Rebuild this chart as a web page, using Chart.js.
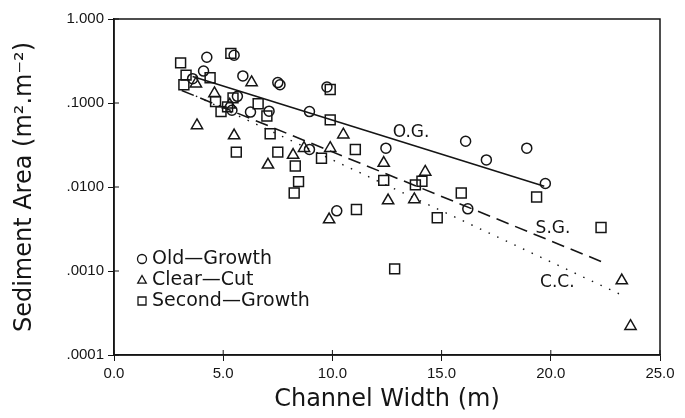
<!DOCTYPE html>
<html>
<head>
<meta charset="utf-8">
<script src="https://cdn.jsdelivr.net/npm/chart.js@4.4.0/dist/chart.umd.min.js"></script>
<style>
  html, body { margin: 0; padding: 0; background: #fff; }
  #wrap { width: 685px; height: 418px; }
</style>
</head>
<body>
<div id="wrap"><canvas id="grafico"></canvas></div>
<script>
// valores: largura do canal (m) x area de sedimento (m2.m-2)
const oldGrowthX = [3.6, 4.1, 4.25, 5.5, 5.4, 5.65, 5.9, 6.25, 7.1, 7.5, 7.6, 8.95, 8.95, 9.75, 10.2, 12.45, 16.1, 16.2, 17.05, 18.9, 19.75];
const oldGrowthY = [0.195, 0.24, 0.35, 0.37, 0.082, 0.12, 0.21, 0.078, 0.08, 0.175, 0.165, 0.079, 0.028, 0.155, 0.0052, 0.029, 0.035, 0.0055, 0.021, 0.029, 0.011];

const clearCutX = [3.75, 3.8, 4.6, 5.3, 5.5, 6.3, 7.05, 8.2, 8.7, 9.9, 9.85, 10.5, 12.35, 12.55, 13.75, 14.25, 23.25, 23.65];
const clearCutY = [0.17, 0.054, 0.13, 0.095, 0.041, 0.176, 0.0184, 0.024, 0.029, 0.029, 0.0041, 0.042, 0.0193, 0.0069, 0.0071, 0.0151, 0.00077, 0.00022];

const secondGrowthX = [3.05, 3.3, 3.2, 4.4, 4.65, 4.9, 5.2, 5.35, 5.45, 5.6, 6.6, 7.0, 7.15, 7.5, 8.3, 8.45, 8.25, 9.5, 9.9, 9.9, 11.05, 11.1, 12.35, 12.85, 13.8, 14.1, 14.8, 15.9, 19.35, 22.3];
const secondGrowthY = [0.30, 0.215, 0.165, 0.2, 0.104, 0.079, 0.09, 0.39, 0.115, 0.026, 0.098, 0.07, 0.043, 0.026, 0.0178, 0.0116, 0.0085, 0.022, 0.145, 0.063, 0.028, 0.0054, 0.012, 0.00106, 0.0106, 0.0117, 0.0043, 0.0085, 0.0076, 0.0033];

// retas de regressao (pontas)
const ogFitX = [3.6, 19.7];
const ogFitY = [0.207, 0.0102];
const sgFitX = [3.1, 22.3];
const sgFitY = [0.141, 0.0013];
const ccFitX = [3.75, 23.3];
const ccFitY = [0.121, 0.00051];

// rotulos das retas
const fitLabels = ['O.G.', 'S.G.', 'C.C.'];
const fitLabelX = [13.6, 20.1, 20.3];
const fitLabelY = [0.044, 0.0032, 0.00073];

// eixos
const yTickValues = [1, 0.1, 0.01, 0.001, 0.0001];
const yTickLabels = ['1.000', '.1000', '.0100', '.0010', '.0001'];
const xTickStep = 5;

const toPoints = (xs, ys) => xs.map((x, i) => ({ x: x, y: ys[i] }));
const ink = '#151515';

function marker(ctx, style, x, y, r) {
    ctx.beginPath();
    if (style === 'circle') {
        ctx.arc(x, y, r, 0, Math.PI * 2);
    } else if (style === 'triangle') {
        ctx.moveTo(x, y - r);
        ctx.lineTo(x + r * 0.95, y + r * 0.7);
        ctx.lineTo(x - r * 0.95, y + r * 0.7);
        ctx.closePath();
    } else {
        ctx.rect(x - r, y - r, 2 * r, 2 * r);
    }
    ctx.stroke();
}

const extras = {
    id: 'extras',
    afterDraw(chart) {
        const ctx = chart.ctx;
        const a = chart.chartArea;
        const sx = chart.scales.x, sy = chart.scales.y;
        ctx.save();
        // moldura
        ctx.strokeStyle = ink;
        ctx.lineWidth = 1.5;
        ctx.strokeRect(a.left, a.top, a.right - a.left, a.bottom - a.top);
        // marcas internas dos ticks
        ctx.lineWidth = 1;
        sx.ticks.forEach(t => {
            const px = sx.getPixelForValue(t.value);
            ctx.beginPath(); ctx.moveTo(px, a.bottom); ctx.lineTo(px, a.bottom - 5); ctx.stroke();
        });
        sy.ticks.forEach(t => {
            const py = sy.getPixelForValue(t.value);
            ctx.beginPath(); ctx.moveTo(a.left, py); ctx.lineTo(a.left + 5, py); ctx.stroke();
        });
        // rotulos das retas
        ctx.fillStyle = ink;
        ctx.font = '17px "DejaVu Sans"';
        ctx.textAlign = 'center';
        ctx.textBaseline = 'middle';
        fitLabels.forEach((t, i) => {
            ctx.fillText(t, sx.getPixelForValue(fitLabelX[i]), sy.getPixelForValue(fitLabelY[i]));
        });
        // legenda
        ctx.textAlign = 'left';
        ctx.font = '19px "DejaVu Sans"';
        ctx.lineWidth = 1.3;
        const series = chart.data.datasets.filter(d => d.type === 'scatter');
        series.forEach((d, i) => {
            const y = a.bottom - 96 + i * 21;
            marker(ctx, d.pointStyle, a.left + 28, y, d.pointStyle === 'rect' ? 4 : 4.5);
            ctx.fillText(d.label, a.left + 38, y);
        });
        ctx.restore();
    }
};

const ctxGrafico = document.getElementById('grafico').getContext('2d');
const grafico = new Chart(ctxGrafico, {
    data: {
        datasets: [
            {
                type: 'scatter', label: 'Old\u2014Growth', pointStyle: 'circle',
                data: toPoints(oldGrowthX, oldGrowthY),
                pointRadius: 5, pointBorderWidth: 1.5,
                borderColor: ink, backgroundColor: 'rgba(0,0,0,0)'
            },
            {
                type: 'scatter', label: 'Clear\u2014Cut', pointStyle: 'triangle',
                data: toPoints(clearCutX, clearCutY),
                pointRadius: 6.5, pointBorderWidth: 1.5,
                borderColor: ink, backgroundColor: 'rgba(0,0,0,0)'
            },
            {
                type: 'scatter', label: 'Second\u2014Growth', pointStyle: 'rect',
                data: toPoints(secondGrowthX, secondGrowthY),
                pointRadius: 7, pointBorderWidth: 1.5,
                borderColor: ink, backgroundColor: 'rgba(0,0,0,0)'
            },
            {
                type: 'line', label: 'O.G.', data: toPoints(ogFitX, ogFitY),
                borderColor: ink, borderWidth: 1.6, pointRadius: 0, fill: false
            },
            {
                type: 'line', label: 'S.G.', data: toPoints(sgFitX, sgFitY),
                borderColor: ink, borderWidth: 1.6, borderDash: [13, 7], pointRadius: 0, fill: false
            },
            {
                type: 'line', label: 'C.C.', data: toPoints(ccFitX, ccFitY),
                borderColor: ink, borderWidth: 1.4, borderDash: [1.5, 8], pointRadius: 0, fill: false
            }
        ]
    },
    options: {
        responsive: true,
        maintainAspectRatio: false,
        animation: false,
        layout: { padding: { top: 19, right: 25, left: 0, bottom: 0 } },
        plugins: {
            legend: { display: false },
            tooltip: { enabled: false }
        },
        scales: {
            x: {
                type: 'linear', min: 0, max: 25,
                ticks: {
                    stepSize: xTickStep,
                    color: ink,
                    font: { family: 'Liberation Sans', size: 15 },
                    padding: 4,
                    callback: v => v.toFixed(1)
                },
                grid: { drawOnChartArea: false, tickLength: 6, color: ink },
                border: { color: ink, width: 1.5 },
                title: {
                    display: true, text: 'Channel Width (m)', color: ink,
                    font: { family: 'DejaVu Sans', size: 24 },
                    padding: { top: 4 }
                },
                afterFit: s => { s.height = 63; }
            },
            y: {
                type: 'logarithmic', min: 0.0001, max: 1,
                afterBuildTicks: s => { s.ticks = yTickValues.map(v => ({ value: v })); },
                ticks: {
                    autoSkip: false,
                    color: ink,
                    font: { family: 'Liberation Sans', size: 15 },
                    padding: 4,
                    callback: (v, i) => yTickLabels[i]
                },
                grid: { drawOnChartArea: false, tickLength: 6, color: ink },
                border: { color: ink, width: 1.5 },
                title: {
                    display: true, text: 'Sediment Area (m\u00b2.m\u207b\u00b2)', color: ink,
                    font: { family: 'DejaVu Sans', size: 24 },
                    padding: { top: 10, bottom: 6 }
                },
                afterFit: s => { s.width = 114; }
            }
        }
    },
    plugins: [extras]
});
</script>
</body>
</html>
